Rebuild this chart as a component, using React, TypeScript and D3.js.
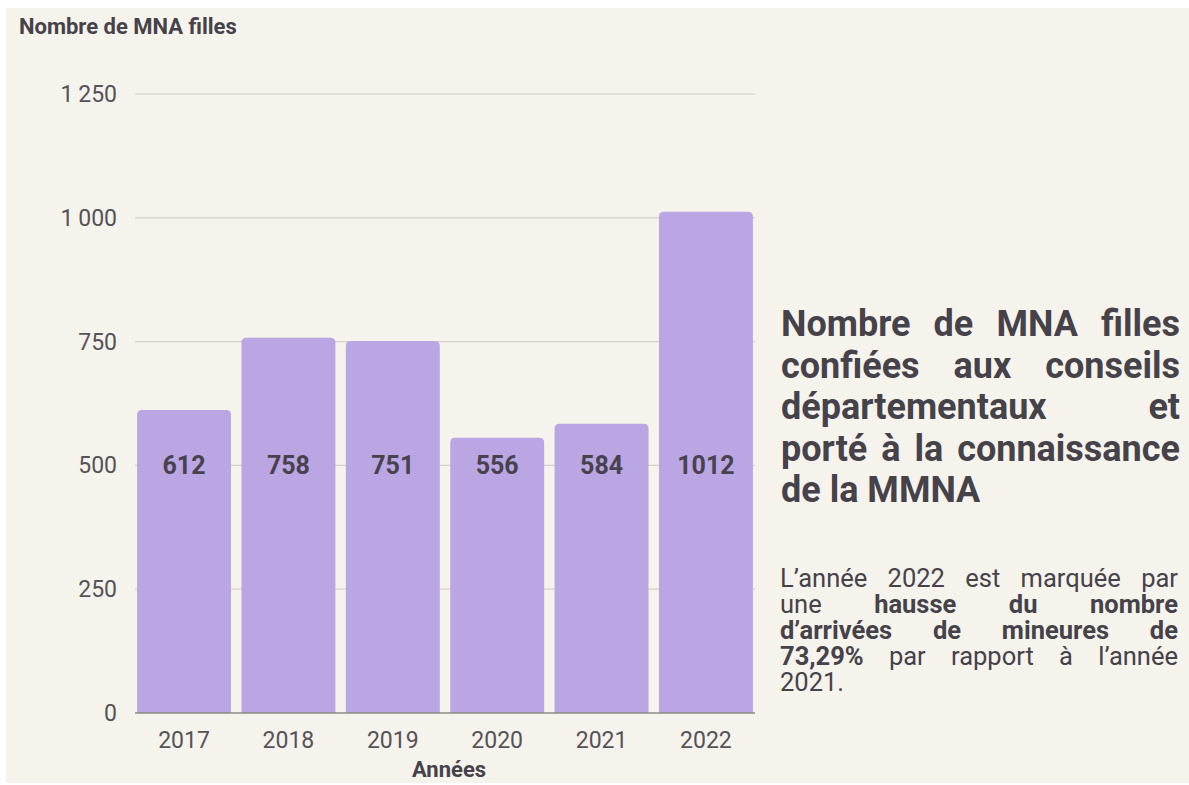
import React, { useMemo } from 'react';
import * as d3 from 'd3';

const years = ['2017', '2018', '2019', '2020', '2021', '2022'];
const filles = [612, 758, 751, 556, 584, 1012];
const yTicks = [0, 250, 500, 750, 1000, 1250];

const titreAxe = 'Nombre de MNA filles';
const titreX = 'Années';

// lines of the side text, [text, bold]
const titreLignes: [string, boolean][][] = [
  [['Nombre de MNA filles', true]],
  [['confiées aux conseils', true]],
  [['départementaux et', true]],
  [['porté à la connaissance', true]],
  [['de la MMNA', true]],
];
const texteLignes: [string, boolean][][] = [
  [['L’année 2022 est marquée par', false]],
  [['une', false], ['hausse du nombre', true]],
  [['d’arrivées de mineures de', true]],
  [['73,29%', true], ['par rapport à l’année', false]],
  [['2021.', false]],
];

const W = 1189;
const H = 785;
const FONT = 'Roboto, "Noto Sans", sans-serif';
const TXT = '#45424a';

const fr = d3.formatLocale({
  decimal: ',',
  thousands: '\u2009',
  grouping: [3],
  currency: ['', ' €'],
});

let ctx: CanvasRenderingContext2D | null = null;
function textWidth(s: string, size: number, bold: boolean) {
  if (!ctx) ctx = document.createElement('canvas').getContext('2d');
  if (!ctx) return s.length * size * 0.5;
  ctx.font = `${bold ? 'bold ' : ''}${size}px Roboto`;
  return ctx.measureText(s).width;
}

// justified block: every line but the last spread over the full width
function Justified({ lines, x0, x1, y0, lh, size }: any) {
  const out: any[] = [];
  lines.forEach((line: [string, boolean][], i: number) => {
    const words: { t: string; b: boolean; w: number }[] = [];
    line.forEach(([t, b]) =>
      t.split(' ').forEach((w) => words.push({ t: w, b, w: textWidth(w, size, b) }))
    );
    const total = d3.sum(words, (d) => d.w);
    const last = i === lines.length - 1;
    const gap = last || words.length < 2
      ? textWidth(' ', size, false)
      : (x1 - x0 - total) / (words.length - 1);
    let x = x0;
    words.forEach((w, j) => {
      out.push(
        <text key={`${i}-${j}`} x={x} y={y0 + i * lh} fontSize={size}
          fontWeight={w.b ? 700 : 400} fill={TXT} fontFamily={FONT}>
          {w.t}
        </text>
      );
      x += w.w + gap;
    });
  });
  return <g>{out}</g>;
}

export default function App() {
  const x = useMemo(
    () => d3.scaleBand().domain(years).range([135, 755]).paddingInner(0.1).paddingOuter(0.02),
    []
  );
  const y = useMemo(() => d3.scaleLinear().domain([0, 1250]).range([713, 94]), []);
  const fmt = fr.format(',d');
  const r = 5;

  const barPath = (v: number, yr: string) => {
    const x0 = x(yr)!;
    const w = x.bandwidth();
    const top = y(v);
    const b = y(0);
    return `M${x0},${b}V${top + r}Q${x0},${top} ${x0 + r},${top}H${x0 + w - r}Q${x0 + w},${top} ${x0 + w},${top + r}V${b}Z`;
  };

  return (
    <svg width={W} height={H} style={{ position: 'absolute', left: 0, top: 0, display: 'block' }}
      fontFamily={FONT}>
      <rect x={0} y={0} width={W} height={H} fill="#ffffff" />
      <rect x={6} y={8} width={W - 6} height={775} fill="#f6f3ec" />

      <text x={19} y={34} fontSize={22} fontWeight={700} fill={TXT}>
        {titreAxe}
      </text>

      {/* grid */}
      {yTicks.filter((t) => t > 0).map((t) => (
        <line key={t} x1={135} x2={755} y1={y(t)} y2={y(t)} stroke="#d4d0c8" strokeWidth={1.2} />
      ))}
      {yTicks.map((t) => (
        <text key={t} x={117} y={y(t)} dy="0.35em" textAnchor="end" fontSize={23} fill="#555258">
          {fmt(t)}
        </text>
      ))}

      {/* bars */}
      {filles.map((v, i) => (
        <path key={years[i]} d={barPath(v, years[i])} fill="#b9a6e2" />
      ))}
      <line x1={135} x2={755} y1={y(0)} y2={y(0)} stroke="#8e8a84" strokeWidth={1.5} />

      {filles.map((v, i) => (
        <text key={years[i]} x={x(years[i])! + x.bandwidth() / 2} y={y(500)} dy="0.36em"
          textAnchor="middle" fontSize={25} fontWeight={700} fill="#48424f">
          {v}
        </text>
      ))}

      {years.map((yr) => (
        <text key={yr} x={x(yr)! + x.bandwidth() / 2} y={748} textAnchor="middle" fontSize={23}
          fill="#555258">
          {yr}
        </text>
      ))}
      <text x={449} y={777} textAnchor="middle" fontSize={22} fontWeight={700} fill={TXT}>
        {titreX}
      </text>

      <Justified lines={titreLignes} x0={781} x1={1180} y0={336} lh={41.5} size={36} />
      <Justified lines={texteLignes} x0={780} x1={1178} y0={587} lh={26} size={25.5} />
    </svg>
  );
}
